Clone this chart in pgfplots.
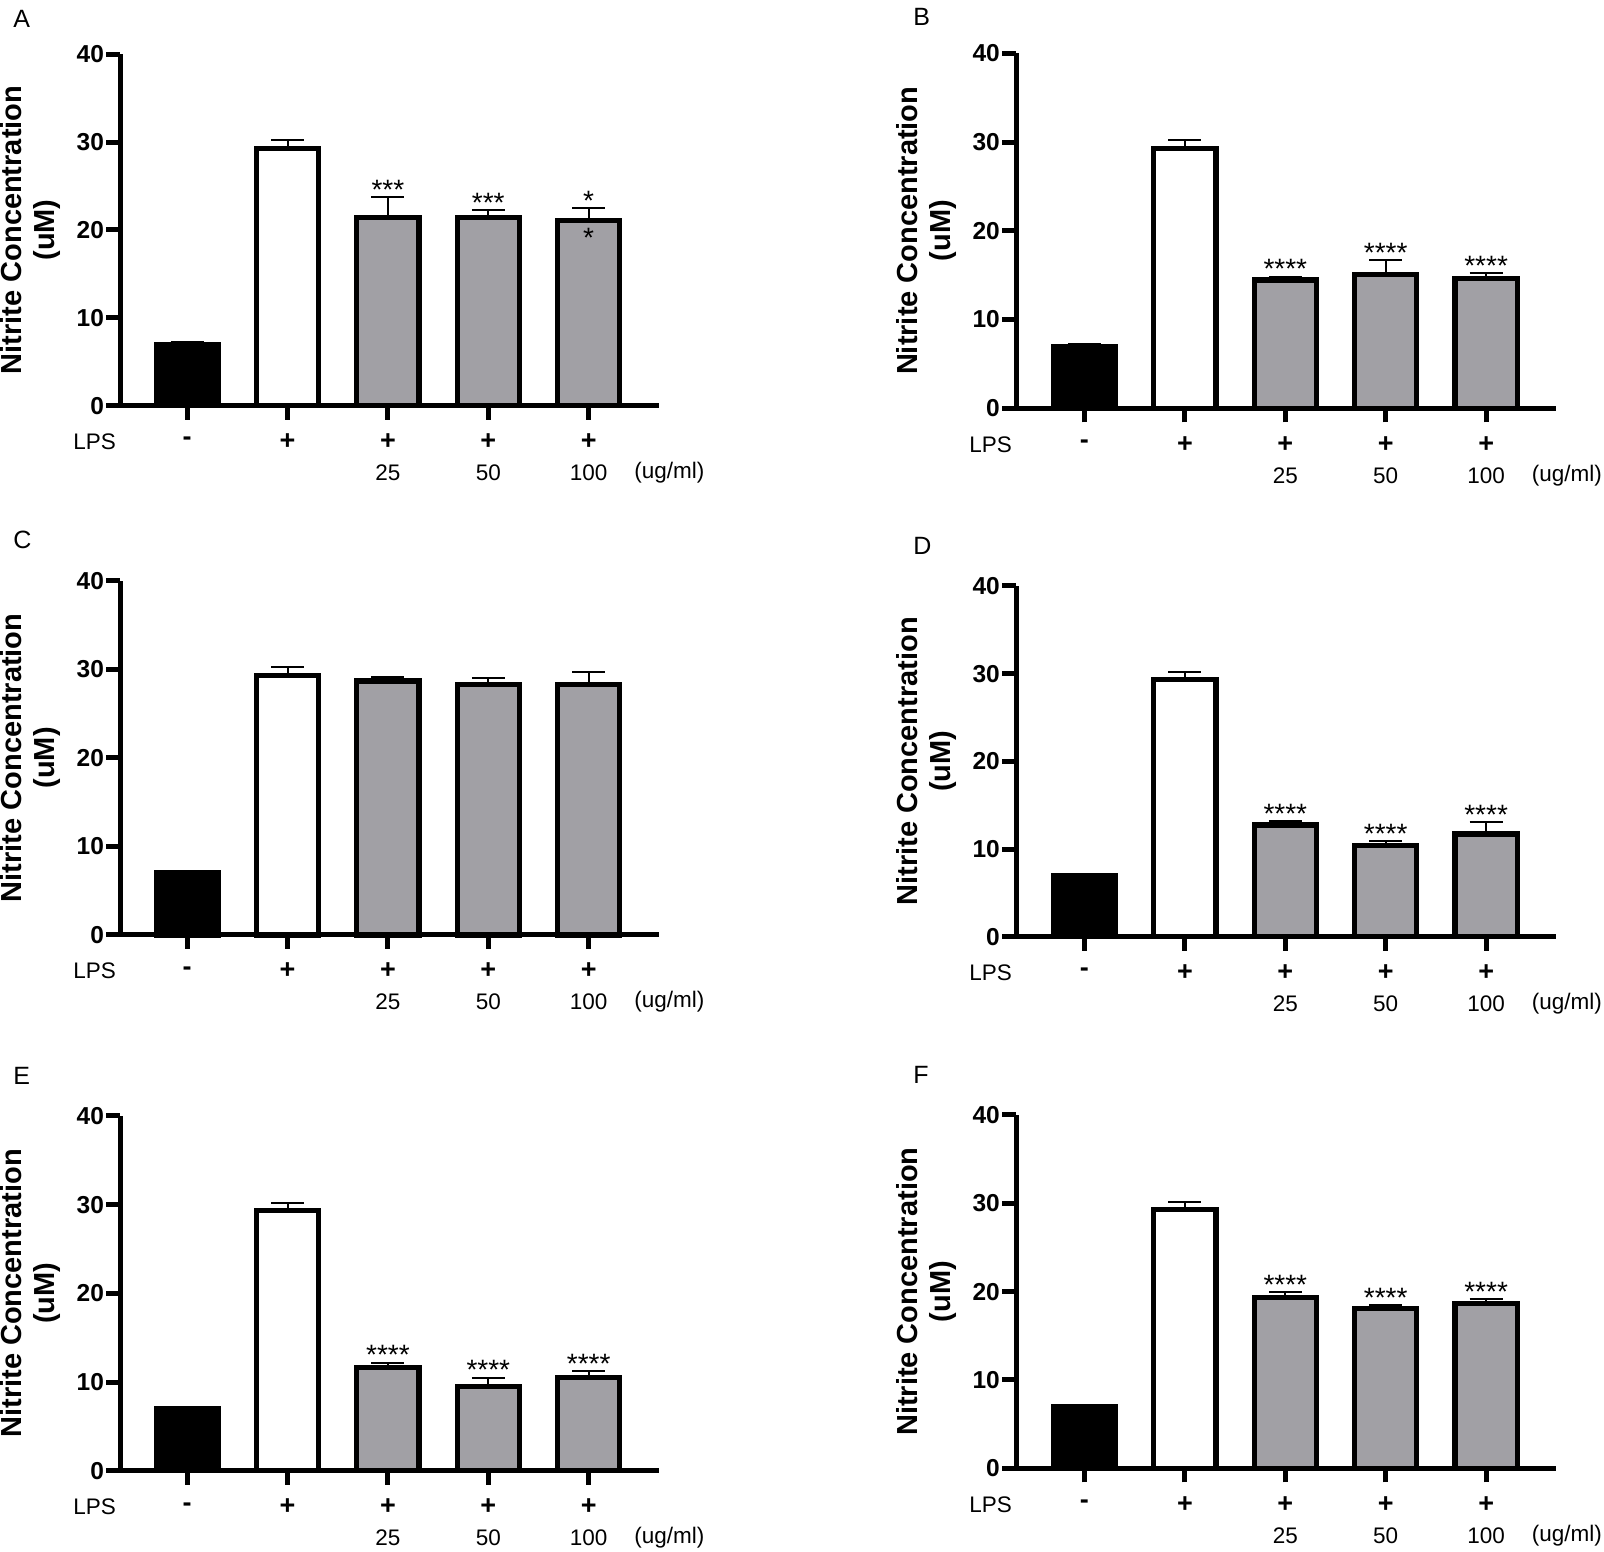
\documentclass[border=0pt]{standalone}
\usepackage{fontspec}
\setmainfont{Liberation Sans}
\usepackage{pgfplots}
\pgfplotsset{compat=1.18}

\definecolor{barGray}{RGB}{161,160,165}

\newcommand{\tickfont}{\bfseries\fontsize{12.25}{14}\selectfont}
\newcommand{\lblfont}{\fontsize{11.25}{13.5}\selectfont}
\newcommand{\plusfont}{\bfseries\fontsize{13.5}{15}\selectfont}
\newcommand{\ylfont}{\bfseries\fontsize{14.5}{16.5}\selectfont}
\newcommand{\astfont}{\fontsize{14}{16}\selectfont}
\newcommand{\letterfont}{\fontsize{12.5}{14}\selectfont}

\pgfplotsset{
  panel/.style={
    scale only axis, clip=false,
    ymin=0, ymax=40,
    axis x line*=bottom, axis y line*=left,
    axis line style={-, line width=2.5pt},
    xtick={0,1,2,3,4}, xticklabels={},
    ytick={0,10,20,30,40},
    tick align=outside, major tick length=7pt,
    major tick style={line width=2.5pt, black},
    yticklabel style={font=\tickfont, inner sep=0pt, xshift=-1pt},
    /pgf/number format/assume math mode=true,
    ybar, bar width=0.62,
    error bars/y dir=plus, error bars/y explicit,
    error bars/error bar style={line width=1pt, black, solid},
    error bars/error mark options={line width=1pt, black, mark size=8.25pt, rotate=90},
  },
  left panel/.style={panel, width=269.3pt, xmin=-0.667, xmax=4.70},
  right panel/.style={panel, width=270.1pt, xmin=-0.68, xmax=4.70},
  blackbar/.style={bar shift=0pt, fill=black, draw=black, line width=2.6pt},
  whitebar/.style={bar shift=0pt, fill=white, draw=black, line width=2.6pt},
  graybar/.style={bar shift=0pt, fill=barGray, draw=black, line width=2.6pt},
}

% treatment rows, axis title and unit shared by every panel
\newcommand{\decor}{%
  \node[rotate=90, align=center, font=\ylfont] at ([xshift=-45pt]rel axis cs:0,0.5) {Nitrite Concentration\\(uM)};
  \node[anchor=east, font=\lblfont, inner sep=0pt] at ([xshift=-2pt, yshift=-18pt]rel axis cs:0,0) {LPS};
  \node[font=\plusfont, inner sep=0pt] at ([yshift=-18pt]axis cs:0,0) {-};
  \node[font=\plusfont, inner sep=0pt] at ([yshift=-18pt]axis cs:1,0) {+};
  \node[font=\plusfont, inner sep=0pt] at ([yshift=-18pt]axis cs:2,0) {+};
  \node[font=\plusfont, inner sep=0pt] at ([yshift=-18pt]axis cs:3,0) {+};
  \node[font=\plusfont, inner sep=0pt] at ([yshift=-18pt]axis cs:4,0) {+};
  \node[font=\lblfont, inner sep=0pt] at ([yshift=-33.5pt]axis cs:2,0) {25};
  \node[font=\lblfont, inner sep=0pt] at ([yshift=-33.5pt]axis cs:3,0) {50};
  \node[font=\lblfont, inner sep=0pt] at ([yshift=-33.5pt]axis cs:4,0) {100};
  \node[anchor=west, font=\lblfont, inner sep=0pt] at ([xshift=-12.5pt, yshift=-33.5pt]rel axis cs:1,0) {(ug/ml)};
}
% significance stars just above an error bar cap
\newcommand{\sig}[3]{%
  \node[font=\astfont, anchor=base, inner sep=0pt] at ([yshift=-1.2pt]axis cs:#1,#2) {#3};
}

\begin{document}
\begin{tikzpicture}
\useasboundingbox (0,0) rectangle (802pt,775.5pt);

% ---------- A ----------
\begin{axis}[left panel, at={(60.15pt,572.65pt)}, anchor=south west, height=175.7pt]
\addplot[blackbar] coordinates {(0,7.0) +- (0,0.2)};
\addplot[whitebar] coordinates {(1,29.3) +- (0,0.9)};
\addplot[graybar] coordinates {(2,21.45) +- (0,2.35) (3,21.45) +- (0,0.85) (4,21.06) +- (0,1.41)};
\decor
\sig{2}{23.8}{***}
\sig{3}{22.3}{***}
\sig{4}{22.47}{*}
\node[font=\astfont, anchor=base, inner sep=0pt] at ([yshift=-13.3pt]axis cs:4,21.06) {*};
\end{axis}

% ---------- B ----------
\begin{axis}[right panel, at={(508.1pt,571.35pt)}, anchor=south west, height=177.5pt]
\addplot[blackbar] coordinates {(0,7.0) +- (0,0.2)};
\addplot[whitebar] coordinates {(1,29.3) +- (0,0.9)};
\addplot[graybar] coordinates {(2,14.46) +- (0,0.38) (3,15.1) +- (0,1.56) (4,14.59) +- (0,0.68)};
\decor
\sig{2}{14.84}{****}
\sig{3}{16.66}{****}
\sig{4}{15.27}{****}
\end{axis}

% ---------- C ----------
\begin{axis}[left panel, at={(60.15pt,308pt)}, anchor=south west, height=177.15pt]
\addplot[blackbar] coordinates {(0,7.0) +- (0,0.2)};
\addplot[whitebar] coordinates {(1,29.3) +- (0,0.9)};
\addplot[graybar] coordinates {(2,28.67) +- (0,0.48) (3,28.3) +- (0,0.7) (4,28.3) +- (0,1.4)};
\decor
\end{axis}

% ---------- D ----------
\begin{axis}[right panel, at={(508.1pt,307.15pt)}, anchor=south west, height=175.35pt]
\addplot[blackbar] coordinates {(0,7.0) +- (0,0.2)};
\addplot[whitebar] coordinates {(1,29.3) +- (0,0.9)};
\addplot[graybar] coordinates {(2,12.74) +- (0,0.46) (3,10.38) +- (0,0.57) (4,11.71) +- (0,1.39)};
\decor
\sig{2}{13.2}{****}
\sig{3}{10.95}{****}
\sig{4}{13.1}{****}
\end{axis}

% ---------- E ----------
\begin{axis}[left panel, at={(60.15pt,40.15pt)}, anchor=south west, height=177.35pt]
\addplot[blackbar] coordinates {(0,7.0) +- (0,0.2)};
\addplot[whitebar] coordinates {(1,29.3) +- (0,0.9)};
\addplot[graybar] coordinates {(2,11.66) +- (0,0.54) (3,9.47) +- (0,1.03) (4,10.5) +- (0,0.77)};
\decor
\sig{2}{12.2}{****}
\sig{3}{10.5}{****}
\sig{4}{11.27}{****}
\end{axis}

% ---------- F ----------
\begin{axis}[right panel, at={(508.1pt,41.35pt)}, anchor=south west, height=176.65pt]
\addplot[blackbar] coordinates {(0,7.0) +- (0,0.2)};
\addplot[whitebar] coordinates {(1,29.3) +- (0,0.9)};
\addplot[graybar] coordinates {(2,19.36) +- (0,0.64) (3,18.12) +- (0,0.34) (4,18.68) +- (0,0.52)};
\decor
\sig{2}{20.0}{****}
\sig{3}{18.46}{****}
\sig{4}{19.2}{****}
\end{axis}

% panel letters
\node[anchor=north west, inner sep=0pt, font=\letterfont] at (6.5pt,770.5pt) {A};
\node[anchor=north west, inner sep=0pt, font=\letterfont] at (456.5pt,771.5pt) {B};
\node[anchor=north west, inner sep=0pt, font=\letterfont] at (6.5pt,510pt) {C};
\node[anchor=north west, inner sep=0pt, font=\letterfont] at (456.5pt,507pt) {D};
\node[anchor=north west, inner sep=0pt, font=\letterfont] at (6.5pt,242pt) {E};
\node[anchor=north west, inner sep=0pt, font=\letterfont] at (456.5pt,242.5pt) {F};
\end{tikzpicture}
\end{document}
